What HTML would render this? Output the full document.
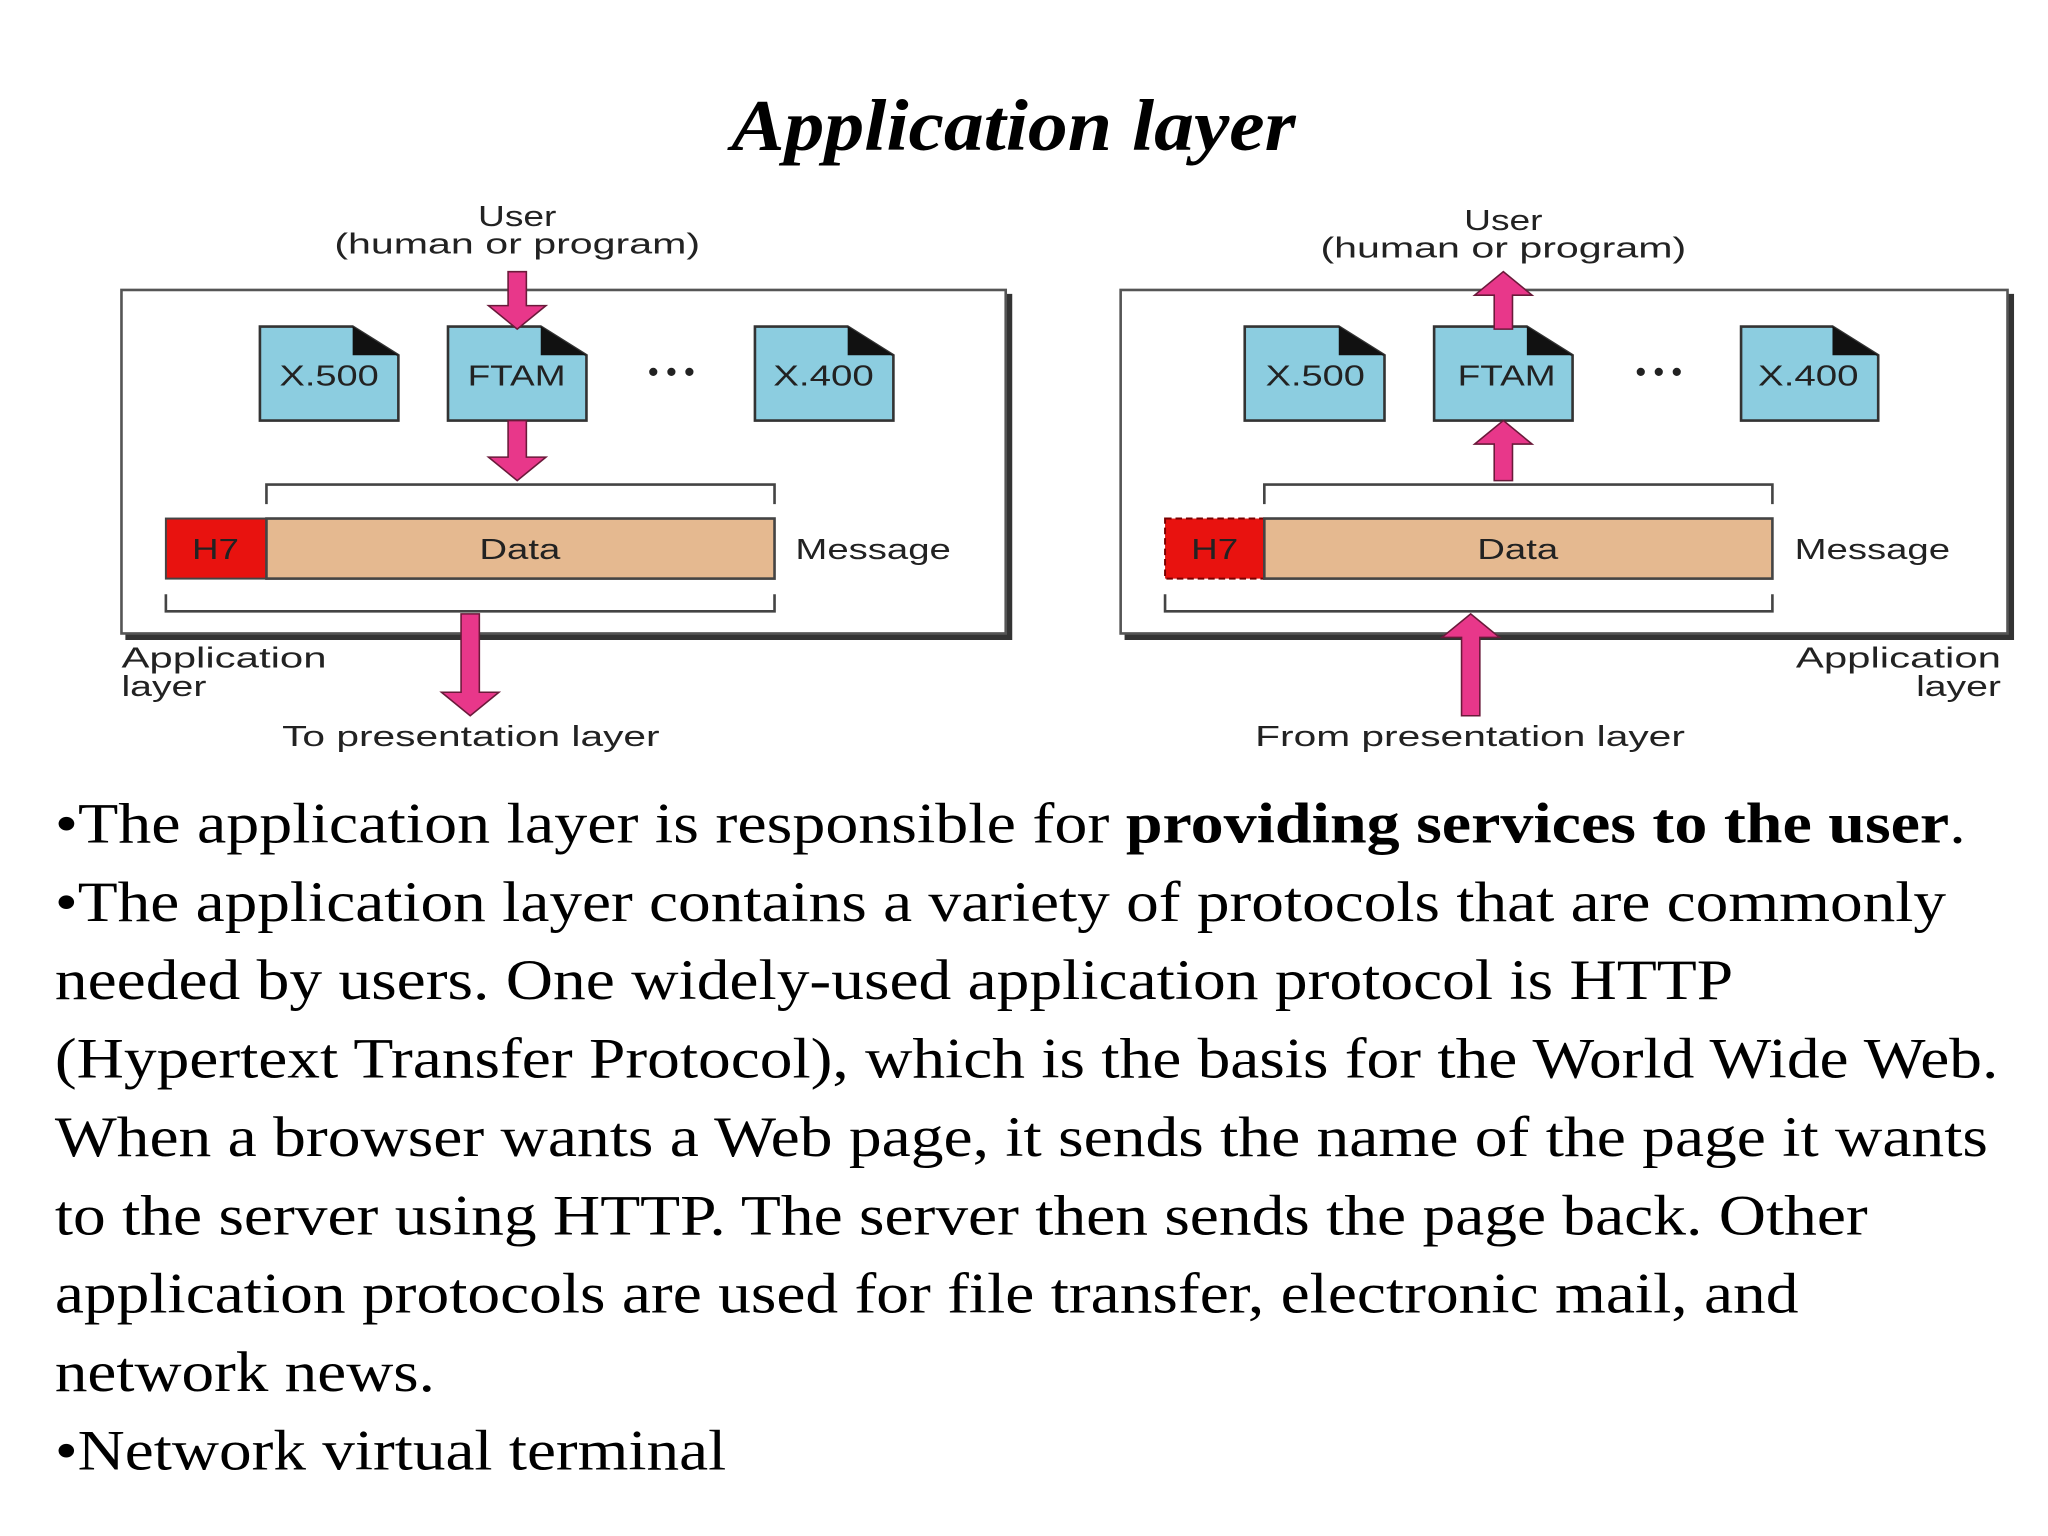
<!DOCTYPE html>
<html><head><meta charset="utf-8"><style>
html,body{margin:0;padding:0;background:#fff;}
svg{display:block;}
.s{font-family:"Liberation Sans",Arial,sans-serif;font-size:22px;fill:#222;}
.b{font-family:"Liberation Serif","Times New Roman",serif;font-size:44px;fill:#000;}
.ar{fill:#e8378a;stroke:#6a1a3a;stroke-width:1.2;}
.doc{fill:#8ccde0;stroke:#333;stroke-width:2;}
</style></head><body>
<svg width="2048" height="1536" viewBox="0 0 1568 1176" xmlns="http://www.w3.org/2000/svg">
<rect width="1568" height="1176" fill="#fff"/>
<text x="560" y="115" textLength="432" lengthAdjust="spacingAndGlyphs" font-family="Liberation Serif,serif" font-style="italic" font-weight="bold" font-size="56">Application layer</text>

<!-- LEFT DIAGRAM -->
<rect x="96" y="225" width="679" height="265" fill="#333"/>
<rect x="93" y="222" width="677" height="263" fill="#fff" stroke="#555" stroke-width="2"/>
<text class="s" x="366" y="173" textLength="60" lengthAdjust="spacingAndGlyphs">User</text>
<text class="s" x="256" y="194" textLength="280" lengthAdjust="spacingAndGlyphs">(human or program)</text>
<g class="doc">
<path d="M199 250 H270 L305 272 V322 H199 Z"/><path d="M343 250 H414 L449 272 V322 H343 Z"/><path d="M578 250 H649 L684 272 V322 H578 Z"/>
</g>
<path d="M270 250 L305 272 H270 Z M414 250 L449 272 H414 Z M649 250 L684 272 H649 Z" fill="#111"/>
<text class="s" x="214" y="295" textLength="76" lengthAdjust="spacingAndGlyphs">X.500</text>
<text class="s" x="358" y="295" textLength="75" lengthAdjust="spacingAndGlyphs">FTAM</text>
<text class="s" x="592" y="295" textLength="77" lengthAdjust="spacingAndGlyphs">X.400</text>
<text class="s" x="514" y="292" text-anchor="middle" font-weight="bold" font-size="24">• • •</text>
<polygon class="ar" points="389,208 403,208 403,234 418,234 396,252 374,234 389,234"/>
<polygon class="ar" points="389,322 403,322 403,350 418,350 396,368 374,350 389,350"/>
<path d="M204 386 V371 H593 V386" fill="none" stroke="#444" stroke-width="2"/>
<rect x="127" y="397" width="77" height="46" fill="#e8120f" stroke="#444" stroke-width="1.5"/>
<rect x="204" y="397" width="389" height="46" fill="#e5b990" stroke="#444" stroke-width="2"/>
<text class="s" x="147" y="428" textLength="36" lengthAdjust="spacingAndGlyphs" fill="#7a0000">H7</text>
<text class="s" x="367" y="428" textLength="62" lengthAdjust="spacingAndGlyphs">Data</text>
<text class="s" x="609" y="428" textLength="119" lengthAdjust="spacingAndGlyphs">Message</text>
<path d="M127 455 V468 H593 V455" fill="none" stroke="#444" stroke-width="2"/>
<polygon class="ar" points="353,470 367,470 367,530 382,530 360,548 338,530 353,530"/>
<text class="s" x="93" y="511" textLength="157" lengthAdjust="spacingAndGlyphs">Application</text>
<text class="s" x="93" y="533" textLength="65" lengthAdjust="spacingAndGlyphs">layer</text>
<text class="s" x="216" y="571" textLength="289" lengthAdjust="spacingAndGlyphs">To presentation layer</text>

<!-- RIGHT DIAGRAM -->
<rect x="861" y="225" width="681" height="265" fill="#333"/>
<rect x="858" y="222" width="679" height="263" fill="#fff" stroke="#555" stroke-width="2"/>
<text class="s" x="1121" y="176" textLength="60" lengthAdjust="spacingAndGlyphs">User</text>
<text class="s" x="1011" y="197" textLength="280" lengthAdjust="spacingAndGlyphs">(human or program)</text>
<g class="doc">
<path d="M953 250 H1025 L1060 272 V322 H953 Z"/><path d="M1098 250 H1169 L1204 272 V322 H1098 Z"/><path d="M1333 250 H1403 L1438 272 V322 H1333 Z"/>
</g>
<path d="M1025 250 L1060 272 H1025 Z M1169 250 L1204 272 H1169 Z M1403 250 L1438 272 H1403 Z" fill="#111"/>
<text class="s" x="969" y="295" textLength="76" lengthAdjust="spacingAndGlyphs">X.500</text>
<text class="s" x="1116" y="295" textLength="75" lengthAdjust="spacingAndGlyphs">FTAM</text>
<text class="s" x="1346" y="295" textLength="77" lengthAdjust="spacingAndGlyphs">X.400</text>
<text class="s" x="1270" y="292" text-anchor="middle" font-weight="bold" font-size="24">• • •</text>
<polygon class="ar" points="1144,252 1158,252 1158,226 1173,226 1151,208 1129,226 1144,226"/>
<polygon class="ar" points="1144,368 1158,368 1158,340 1173,340 1151,322 1129,340 1144,340"/>
<path d="M968 386 V371 H1357 V386" fill="none" stroke="#444" stroke-width="2"/>
<rect x="892" y="397" width="76" height="46" fill="#e8120f" stroke="#7a0000" stroke-width="1.5" stroke-dasharray="5,3"/>
<rect x="968" y="397" width="389" height="46" fill="#e5b990" stroke="#444" stroke-width="2"/>
<text class="s" x="912" y="428" textLength="36" lengthAdjust="spacingAndGlyphs" fill="#7a0000">H7</text>
<text class="s" x="1131" y="428" textLength="62" lengthAdjust="spacingAndGlyphs">Data</text>
<text class="s" x="1374" y="428" textLength="119" lengthAdjust="spacingAndGlyphs">Message</text>
<path d="M892 455 V468 H1357 V455" fill="none" stroke="#444" stroke-width="2"/>
<polygon class="ar" points="1119,548 1133,548 1133,488 1148,488 1126,470 1104,488 1119,488"/>
<text class="s" x="1375" y="511" textLength="157" lengthAdjust="spacingAndGlyphs">Application</text>
<text class="s" x="1467" y="533" textLength="65" lengthAdjust="spacingAndGlyphs">layer</text>
<text class="s" x="961" y="571" textLength="329" lengthAdjust="spacingAndGlyphs">From presentation layer</text>

<!-- BODY TEXT -->
<text class="b" x="42" y="645" textLength="1463" lengthAdjust="spacingAndGlyphs">•The application layer is responsible for  <tspan font-weight="bold">providing services to the user</tspan>.</text>
<text class="b" x="42" y="705" textLength="1448" lengthAdjust="spacingAndGlyphs">•The application layer contains a variety of protocols that are commonly</text>
<text class="b" x="42" y="765" textLength="1285" lengthAdjust="spacingAndGlyphs">needed by users. One widely-used application protocol is HTTP</text>
<text class="b" x="42" y="825" textLength="1488" lengthAdjust="spacingAndGlyphs">(Hypertext Transfer Protocol), which is the basis for the World Wide Web.</text>
<text class="b" x="42" y="885" textLength="1480" lengthAdjust="spacingAndGlyphs">When a browser wants a Web page, it sends the name of the page it wants</text>
<text class="b" x="42" y="945" textLength="1388" lengthAdjust="spacingAndGlyphs">to the server using HTTP. The server then sends the page back. Other</text>
<text class="b" x="42" y="1005" textLength="1335" lengthAdjust="spacingAndGlyphs">application protocols are used for file transfer, electronic mail, and</text>
<text class="b" x="42" y="1065" textLength="291" lengthAdjust="spacingAndGlyphs">network news.</text>
<text class="b" x="42" y="1125" textLength="514" lengthAdjust="spacingAndGlyphs">•Network virtual terminal</text>
</svg>
</body></html>
